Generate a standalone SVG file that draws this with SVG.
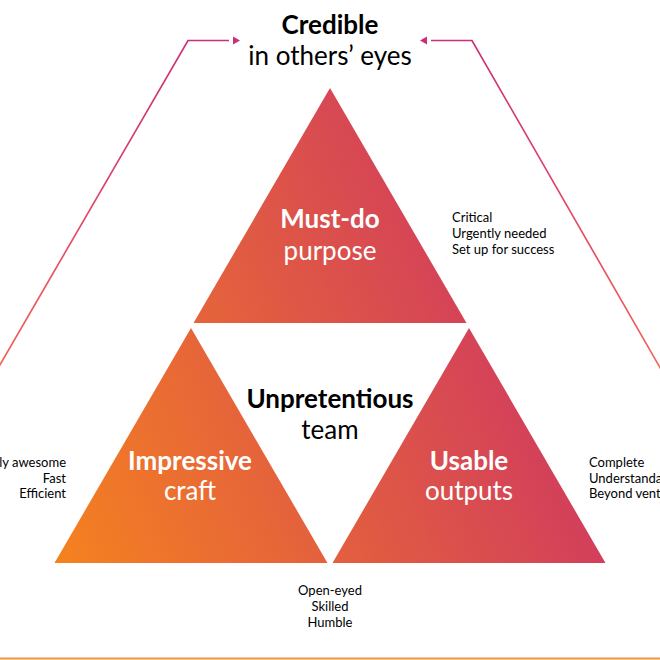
<svg xmlns="http://www.w3.org/2000/svg" width="660" height="660" viewBox="0 0 660 660">
  <defs>
    <linearGradient id="tri" gradientUnits="userSpaceOnUse" x1="54" y1="563" x2="606" y2="330">
      <stop offset="0" stop-color="#f5821f"/>
      <stop offset="1" stop-color="#cc3366"/>
    </linearGradient>
    <linearGradient id="lineL" gradientUnits="userSpaceOnUse" x1="0" y1="365" x2="188" y2="40">
      <stop offset="0" stop-color="#f2665a"/>
      <stop offset="1" stop-color="#cc2e7a"/>
    </linearGradient>
    <linearGradient id="lineR" gradientUnits="userSpaceOnUse" x1="660" y1="368" x2="472" y2="40">
      <stop offset="0" stop-color="#f2665a"/>
      <stop offset="1" stop-color="#cc2e7a"/>
    </linearGradient>
    <marker id="arrow" markerUnits="userSpaceOnUse" viewBox="0 -5 12 10" refX="0" refY="0" markerWidth="12" markerHeight="10" orient="auto">
      <path d="M4,-4 L11,0 L4,4 z" fill="#cc2e7a"/>
    </marker>
  </defs>
  <style>
    text { font-family: Lato, "Open Sans", "Liberation Sans", sans-serif; }
    .title { font-size: 26px; font-weight: bold; fill: #000; text-anchor: middle; }
    .sub { font-size: 26px; fill: #000; text-anchor: middle; }
    .wtitle { font-size: 26px; font-weight: bold; fill: #fff; text-anchor: middle; }
    .wsub { font-size: 26px; fill: #fff; text-anchor: middle; }
    .note { font-size: 13px; fill: #000; }
    .conn { fill: none; stroke-width: 1.7; }
  </style>
  <rect width="660" height="660" fill="#fff"/>

  <g id="connectors">
    <polyline class="conn" stroke="url(#lineL)" points="-10,382 188,40.5 229,40.5" marker-end="url(#arrow)"/>
    <polyline class="conn" stroke="url(#lineR)" points="670,385 472,40.5 431,40.5" marker-end="url(#arrow)"/>
    <line x1="0" y1="658.5" x2="660" y2="658.5" stroke="#f7923a" stroke-width="2"/>
  </g>

  <g id="credible">
    <text class="title" x="330" y="34">Credible</text>
    <text class="sub" x="330" y="65">in others’ eyes</text>
  </g>

  <g id="must-do">
    <polygon points="330,88 466.5,323 193.5,323" fill="url(#tri)"/>
    <text class="wtitle" x="330" y="228">Must-do</text>
    <text class="wsub" x="330" y="260">purpose</text>
    <text class="note" x="452" y="222">Critical</text>
    <text class="note" x="452" y="238">Urgently needed</text>
    <text class="note" x="452" y="254">Set up for success</text>
  </g>

  <g id="unpretentious">
    <text class="title" x="330" y="408">Unpretentious</text>
    <text class="sub" x="330" y="439">team</text>
    <text class="note" x="330" y="595" text-anchor="middle">Open-eyed</text>
    <text class="note" x="330" y="611" text-anchor="middle">Skilled</text>
    <text class="note" x="330" y="627" text-anchor="middle">Humble</text>
  </g>

  <g id="impressive">
    <polygon points="191,328 327.5,563 54.5,563" fill="url(#tri)"/>
    <text class="wtitle" x="190" y="470">Impressive</text>
    <text class="wsub" x="190" y="500">craft</text>
    <text class="note" x="66" y="467" text-anchor="end">ly awesome</text>
    <text class="note" x="66" y="483" text-anchor="end">Fast</text>
    <text class="note" x="66" y="498" text-anchor="end">Efficient</text>
  </g>

  <g id="usable">
    <polygon points="469,328 605.5,563 332.5,563" fill="url(#tri)"/>
    <text class="wtitle" x="469" y="470">Usable</text>
    <text class="wsub" x="469" y="500">outputs</text>
    <text class="note" x="589" y="467">Complete</text>
    <text class="note" x="589" y="483">Understanda</text>
    <text class="note" x="589" y="498">Beyond vent</text>
  </g>
</svg>
